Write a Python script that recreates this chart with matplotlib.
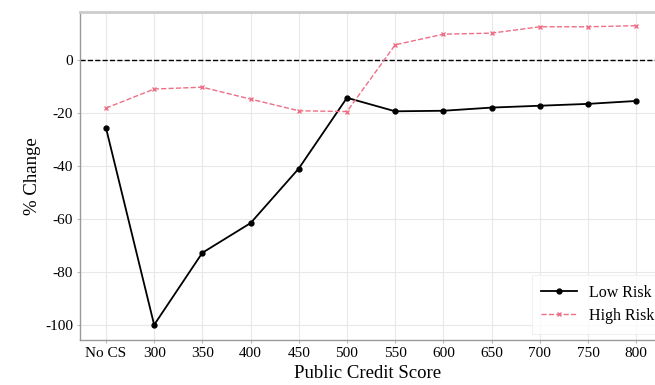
import matplotlib
matplotlib.use("Agg")
import matplotlib.pyplot as plt

categories = ["No CS", "300", "350", "400", "450", "500", "550", "600", "650", "700", "750", "800"]
low_risk = [-25.6, -100.0, -72.8, -61.6, -41.0, -14.3, -19.4, -19.2, -18.0, -17.3, -16.6, -15.5]
high_risk = [-18.2, -11.0, -10.3, -14.8, -19.2, -19.5, 5.7, 9.7, 10.1, 12.5, 12.5, 12.9]
yticks = [0, -20, -40, -60, -80, -100]

plt.rcParams['font.family'] = ['Liberation Serif', 'DejaVu Serif']
plt.rcParams['axes.unicode_minus'] = False

fig = plt.figure(figsize=(6.55, 3.85), dpi=100)
ax = fig.add_axes([0.122, 0.117, 0.878, 0.852])

x = list(range(len(categories)))
ax.axhline(0, color='black', linestyle='--', linewidth=1.0, zorder=2)
ax.plot(x, low_risk, color='black', linewidth=1.3, marker='o', markersize=3.5, label='Low Risk', zorder=3)
ax.plot(x, high_risk, color='#ee6f86', linewidth=1.0, linestyle='--', marker='x',
        markersize=3, markeredgewidth=1.0, label='High Risk', zorder=3)

ax.set_xticks(x)
ax.set_xticklabels(categories)
ax.set_yticks(yticks)
ax.set_xlim(-0.54, 11.39)
ax.set_ylim(-105.7, 18.1)
ax.tick_params(labelsize=11, length=2, color='#bbbbbb', pad=3)
ax.grid(True, color='#e8e8e8', linewidth=0.8, zorder=0)
ax.set_axisbelow(True)

for s in ['left', 'bottom']:
    ax.spines[s].set_color('#999999')
    ax.spines[s].set_linewidth(1.0)
ax.spines['top'].set_color('#cccccc')
ax.spines['top'].set_linewidth(2.0)
ax.spines['right'].set_visible(False)

ax.set_xlabel('Public Credit Score', fontsize=13.5, labelpad=4)
ax.set_ylabel('% Change', fontsize=13.5, labelpad=3)

leg = ax.legend(loc='lower right', bbox_to_anchor=(1.03, -0.005), fontsize=11.5, frameon=True,
                fancybox=False, edgecolor='#eeeeee', handlelength=2.2, borderpad=0.6, labelspacing=0.45)
leg.get_frame().set_linewidth(0.8)

fig.savefig('out.png', dpi=100)
